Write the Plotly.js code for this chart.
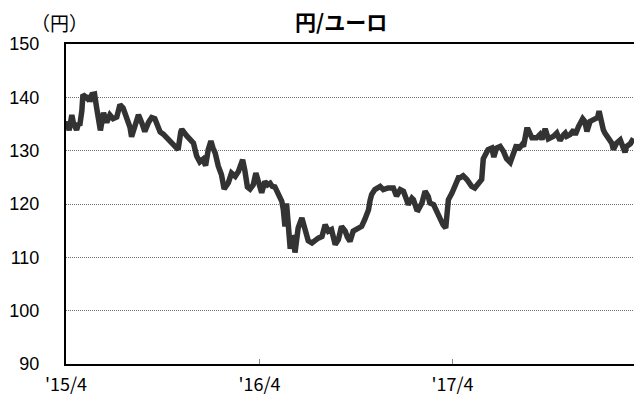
<!DOCTYPE html>
<html>
<head>
<meta charset="utf-8">
<script src="https://cdn.plot.ly/plotly-3.0.1.min.js"></script>
<style>
  html, body { margin: 0; padding: 0; background: #ffffff; }
  #chart { width: 634px; height: 400px; }
</style>
</head>
<body>
<div id="chart"></div>
<script>
// ---- data ----
const chartTitle = "円/ユーロ";
const unitLabel = "（円）";

const dates = [
  "2015-04-01","2015-04-04","2015-04-07","2015-04-10","2015-04-12","2015-04-15","2015-04-18","2015-04-21","2015-04-25","2015-04-27",
  "2015-05-01","2015-05-03","2015-05-07","2015-05-11","2015-05-14","2015-05-16","2015-05-20","2015-05-25","2015-05-29","2015-06-01",
  "2015-06-05","2015-06-11","2015-06-14","2015-06-17","2015-06-23","2015-06-29","2015-07-06","2015-07-12","2015-07-18","2015-07-25",
  "2015-07-31","2015-08-03","2015-08-09","2015-08-16","2015-08-22","2015-08-28","2015-09-04","2015-09-10","2015-09-16","2015-09-20",
  "2015-09-23","2015-09-26","2015-10-02","2015-10-08","2015-10-15","2015-10-21","2015-10-27","2015-10-30","2015-11-04","2015-11-06",
  "2015-11-15","2015-11-21","2015-11-28","2015-12-04","2015-12-08","2015-12-10","2015-12-16","2015-12-21","2015-12-26","2015-12-31",
  "2016-01-04","2016-01-08","2016-01-14","2016-01-20","2016-01-25","2016-01-29","2016-02-02","2016-02-08","2016-02-15","2016-02-21",
  "2016-02-25","2016-02-29","2016-03-04","2016-03-09","2016-03-14","2016-03-20","2016-03-25","2016-03-30","2016-04-05","2016-04-11",
  "2016-04-16","2016-04-21","2016-04-25","2016-04-30","2016-05-06","2016-05-13","2016-05-16","2016-05-19","2016-05-22","2016-05-25",
  "2016-05-29","2016-06-01","2016-06-04","2016-06-07","2016-06-13","2016-06-20","2016-06-23","2016-06-26","2016-07-02","2016-07-09",
  "2016-07-12","2016-07-18","2016-07-21","2016-07-28","2016-08-03","2016-08-09","2016-08-15","2016-08-22","2016-08-28","2016-09-03",
  "2016-09-10","2016-09-14","2016-09-19","2016-09-25","2016-10-05","2016-10-11","2016-10-17","2016-10-24","2016-10-27","2016-10-30",
  "2016-11-05","2016-11-11","2016-11-15","2016-11-21","2016-11-30","2016-12-10","2016-12-16","2016-12-23","2016-12-29","2017-01-04",
  "2017-01-07","2017-01-14","2017-01-17","2017-01-23","2017-01-26","2017-02-02","2017-02-08","2017-02-14","2017-02-17","2017-02-24",
  "2017-02-27","2017-03-05","2017-03-08","2017-03-14","2017-03-19","2017-03-24","2017-03-31","2017-04-06","2017-04-12","2017-04-15",
  "2017-04-21","2017-04-28","2017-05-07","2017-05-13","2017-05-20","2017-05-26","2017-05-29","2017-06-07","2017-06-14","2017-06-18",
  "2017-06-23","2017-06-30","2017-07-06","2017-07-12","2017-07-19","2017-07-25","2017-07-31","2017-08-03","2017-08-10","2017-08-13",
  "2017-08-19","2017-08-22","2017-08-29","2017-09-07","2017-09-13","2017-09-17","2017-09-23","2017-09-29","2017-10-09","2017-10-15",
  "2017-10-21","2017-10-28","2017-10-31","2017-11-03","2017-11-09","2017-11-16","2017-11-19","2017-11-25","2017-12-03","2017-12-07",
  "2017-12-11","2017-12-17","2017-12-26","2017-12-31","2018-01-03","2018-01-08","2018-01-11","2018-01-14","2018-01-21","2018-01-27",
  "2018-01-30","2018-02-05","2018-02-12","2018-02-18","2018-02-21","2018-02-24","2018-03-03","2018-03-09"
];

const yenPerEuro = [
  134.5,135.4,133.8,135.6,136.7,135.2,134.3,133.9,135.2,134.7,
  137.5,140.5,140.2,139.8,140.3,139.2,140.5,140.6,138.0,136.5,
  133.8,137.1,135.8,135.3,136.7,136.0,136.3,138.6,138.0,136.0,
  134.4,132.6,134.4,136.7,135.3,133.6,135.3,136.2,136.0,135.0,
  134.0,133.5,133.1,132.5,132.0,131.3,130.5,130.2,133.5,134.0,
  132.8,132.2,131.4,129.0,128.0,127.9,128.4,127.2,130.2,131.8,
  130.5,129.6,127.1,125.5,122.8,123.4,124.0,125.8,125.2,126.1,
  127.5,128.3,126.4,123.2,122.8,123.6,125.8,123.6,122.1,124.2,
  123.6,123.9,123.3,123.2,121.7,120.5,118.9,115.8,120.1,115.0,
  111.6,114.0,113.5,110.9,115.5,117.4,116.4,115.8,113.1,112.7,
  113.0,113.3,113.6,113.9,116.1,114.9,115.2,112.4,113.3,115.8,
  114.9,113.8,113.0,114.9,115.5,115.8,117.1,118.9,120.7,121.8,
  122.7,122.9,123.3,122.7,123.0,123.0,121.5,122.7,122.4,120.8,
  119.9,121.1,120.8,119.0,118.9,120.2,122.4,121.4,120.2,119.9,
  119.2,118.3,117.4,116.1,115.5,120.8,122.1,123.9,124.9,124.9,
  125.3,124.6,123.3,123.0,123.9,124.6,128.5,130.2,130.5,128.8,
  130.5,130.8,129.9,128.5,127.8,129.6,131.1,130.2,131.1,130.8,
  133.9,133.9,132.4,132.4,133.0,132.1,134.1,132.2,132.7,133.3,
  131.9,133.0,133.3,132.7,133.0,133.9,133.0,134.5,136.0,135.5,
  133.6,135.5,135.8,136.2,137.4,134.9,133.9,133.3,132.1,131.4,
  130.2,131.4,132.0,130.2,129.7,130.8,131.3,132.3
];

const xRange = ["2015-04-01", "2018-03-10"];
const xTickDates = ["2015-04-01", "2016-04-01", "2017-04-01"];
const xTickLabels = ["'15/4", "'16/4", "'17/4"];
const yTickValues = [90, 100, 110, 120, 130, 140, 150];
const yRange = [90, 150];

// ---- chart ----
const trace = {
  type: "scatter",
  mode: "lines",
  x: dates,
  y: yenPerEuro,
  line: { color: "#333333", width: 5.5, shape: "linear" },
  hoverinfo: "skip",
  showlegend: false
};

const layout = {
  width: 634,
  height: 400,
  margin: { l: 66, r: 0, t: 44, b: 36, pad: 0 },
  paper_bgcolor: "#ffffff",
  plot_bgcolor: "#ffffff",
  showlegend: false,
  title: {
    text: "<b>" + chartTitle + "</b>",
    font: { family: "Noto Sans CJK JP", size: 21, color: "#000000", weight: "bold" },
    xref: "container", x: 0.538, xanchor: "center",
    yref: "container", y: 0.944, yanchor: "middle"
  },
  xaxis: {
    type: "date",
    range: xRange,
    tickmode: "array",
    tickvals: xTickDates,
    ticktext: xTickLabels,
    ticks: "inside",
    ticklen: 5,
    tickwidth: 1,
    tickcolor: "#888888",
    showgrid: false,
    zeroline: false,
    showline: true,
    linecolor: "#000000",
    linewidth: 2,
    mirror: true,
    ticklabelstandoff: 3,
    tickfont: { family: "Noto Sans CJK JP", size: 18, color: "#000000" },
    fixedrange: true
  },
  yaxis: {
    range: yRange,
    tickmode: "array",
    tickvals: yTickValues,
    ticks: "",
    showgrid: true,
    gridcolor: "#6e6e6e",
    gridwidth: 1,
    griddash: "1px,1px",
    zeroline: false,
    showline: true,
    linecolor: "#000000",
    linewidth: 2,
    mirror: false,
    ticklabelstandoff: 21,
    tickfont: { family: "Liberation Sans, Arial", size: 18, color: "#000000" },
    fixedrange: true
  },
  annotations: [
    {
      text: unitLabel,
      xref: "paper", yref: "paper",
      x: -0.0106, y: 1.066,
      xanchor: "center", yanchor: "middle",
      showarrow: false,
      font: { family: "Noto Sans CJK JP", size: 19, color: "#000000" }
    }
  ]
};

Plotly.newPlot("chart", [trace], layout, { displayModeBar: false, staticPlot: true });
</script>
</body>
</html>
